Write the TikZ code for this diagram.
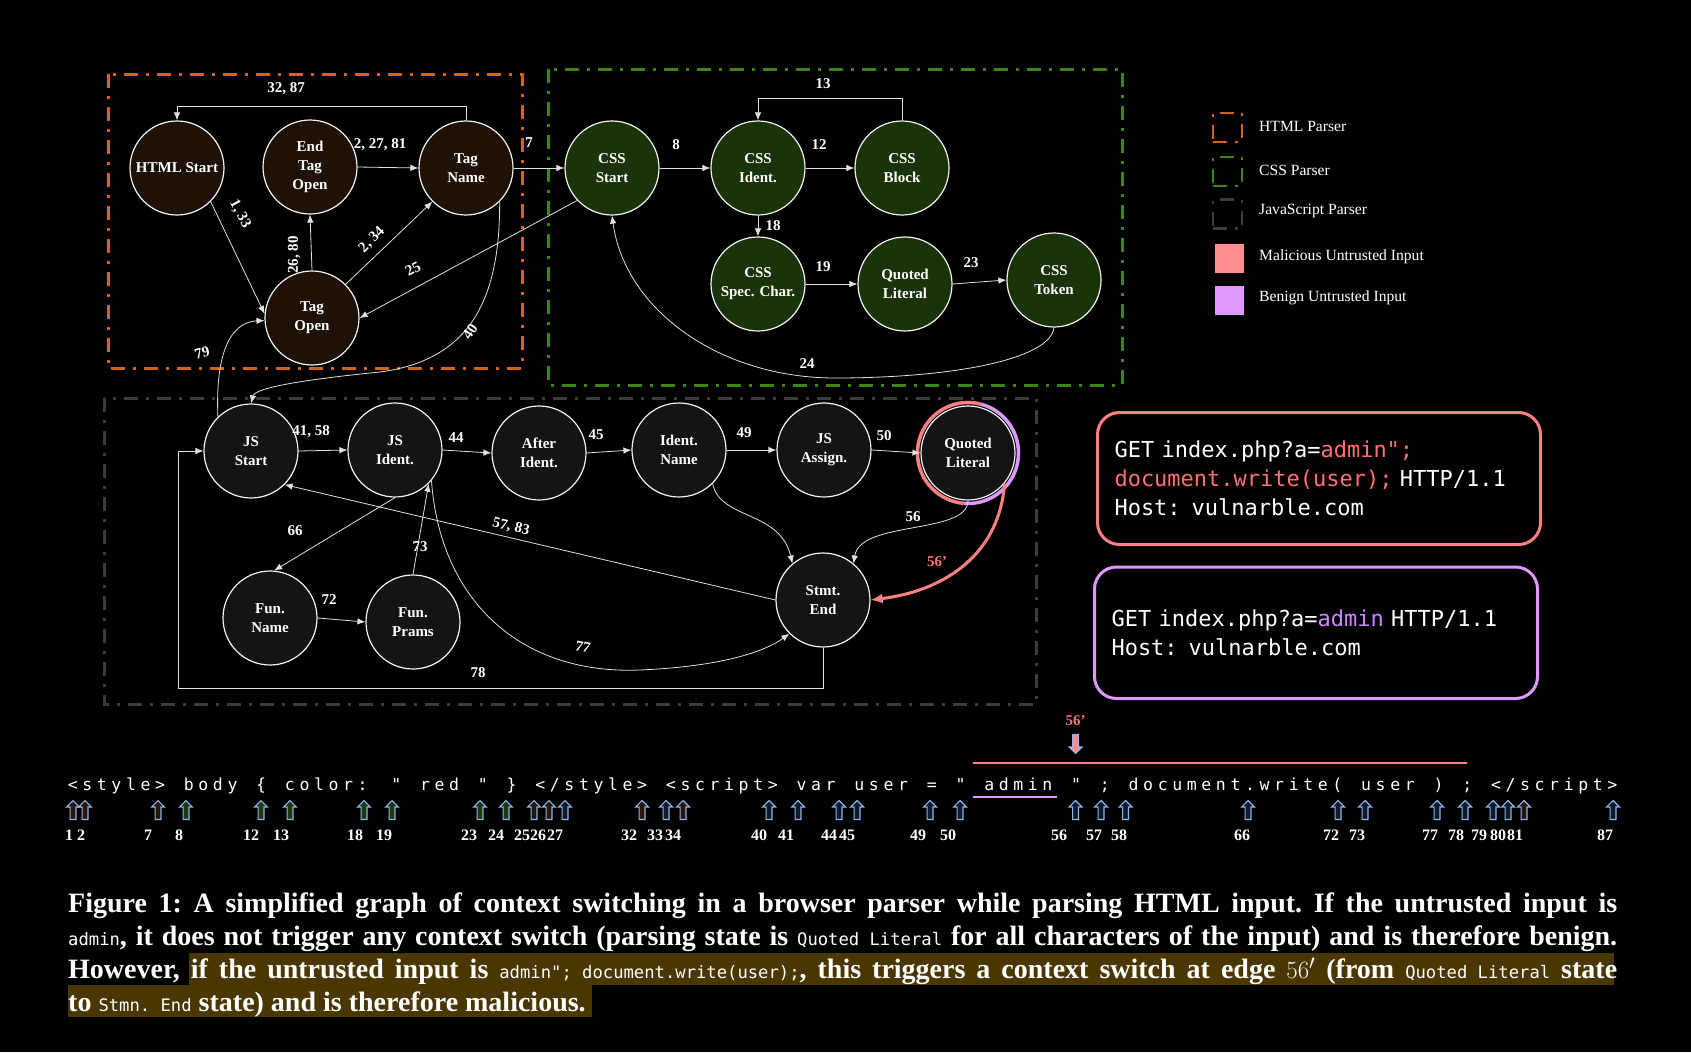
\documentclass[tikz,border=0pt]{standalone}
\usepackage{fontspec}
\setmainfont{Liberation Serif}
\newfontfamily\monofont{DejaVu Sans Mono}
\newfontfamily\tokfont[LetterSpace=28]{DejaVu Sans Mono}
\usetikzlibrary{arrows.meta,shapes.arrows}
\definecolor{htmlfill}{HTML}{1F1106}
\definecolor{cssfill}{HTML}{1A3308}
\definecolor{jsfill}{HTML}{141414}
\definecolor{nodeline}{HTML}{F2F2F2}
\definecolor{edgecol}{HTML}{E0E0E0}
\definecolor{htmlline}{HTML}{D2641A}
\definecolor{cssline}{HTML}{3F8418}
\definecolor{jsline}{HTML}{3C3C3C}
\definecolor{malline}{HTML}{FF8080}
\definecolor{maltext}{HTML}{FF7070}
\definecolor{malfill}{HTML}{FF8C8C}
\definecolor{benline}{HTML}{DD99FF}
\definecolor{bentext}{HTML}{CC88FF}
\definecolor{arrline}{HTML}{8EB5EA}
\definecolor{harr}{HTML}{2A1608}
\definecolor{carr}{HTML}{1C3A0C}
\definecolor{jarr}{HTML}{0F1A2A}
\definecolor{hilite}{HTML}{4A3700}
\newcommand{\capmono}[1]{{\monofont\mdseries\fontsize{17.2}{33}\selectfont\spaceskip=10.35pt\relax #1}}

\begin{document}
\begin{tikzpicture}[x=1pt, y=1pt,
	state/.style={circle, draw=nodeline, line width=1.2pt, minimum size=94pt, inner sep=1pt, align=center, text=white, font=\bfseries\fontsize{15}{19}\selectfont},
	htmlst/.style={state, fill=htmlfill},
	cssst/.style={state, fill=cssfill},
	jsst/.style={state, fill=jsfill},
	edge/.style={draw=edgecol, line width=0.8pt, -{Latex[length=8pt,width=6.5pt]}},
	malarrow/.style={draw=malline, line width=3pt, -{Latex[length=12pt,width=10pt]}},
	lbl/.style={text=white, inner sep=0pt, font=\bfseries\fontsize{15}{18}\selectfont},
	parser/.style={line width=3pt, dash pattern=on 14pt off 8pt on 3pt off 8pt},
	legbox/.style={minimum width=29pt, minimum height=29pt, inner sep=0pt},
	legtxt/.style={anchor=west, text=white, inner sep=0pt, font=\fontsize{15.6}{18}\selectfont},
	reqbox/.style={draw, rounded corners=22pt, line width=3pt, text width=409pt, inner xsep=17pt, inner ysep=0pt, minimum height=132pt, align=left, text=white, font=\monofont\fontsize{22}{29}\selectfont},
	tokup/.style={single arrow, shape border rotate=90, draw=arrline, line width=1.1pt, minimum height=19pt, minimum width=12pt, inner sep=2.4pt, single arrow head extend=3.5pt},
	toklbl/.style={text=white, inner sep=0pt, font=\bfseries\fontsize{16}{18}\selectfont}
	]
		%%%%% START %%%%%
		
		\fill[black] (0,0) rectangle (1691,-1052);
		\useasboundingbox (0,0) rectangle (1691,-1052);
		
		\draw[parser, draw=htmlline] (108,-74) rectangle (522,-368);
		\draw[parser, draw=cssline] (548,-69) rectangle (1122,-385);
		\draw[parser, draw=jsline] (104,-398) rectangle (1036,-704);
		
		\coordinate (hloop) at (0,-106);
		\coordinate (cloop) at (0,-98);
		\coordinate (jsloop) at (178,-688);
		
		% HTML parser
		\node[htmlst] (hs) at (177,-168) {HTML Start};
		\node[htmlst] (eto) at (310,-167) {End\\Tag\\Open};
		\node[htmlst] (tn) at (466,-168) {Tag\\Name};
		\node[htmlst] (to) at (312,-318) {Tag\\Open};
		
		% CSS parser
		\node[cssst] (cs) at (612,-168) {CSS\\Start};
		\node[cssst] (ci) at (758,-168) {CSS\\Ident.};
		\node[cssst] (cb) at (902,-168) {CSS\\Block};
		\node[cssst] (csp) at (758,-284) {CSS\\Spec. Char.};
		\node[cssst] (cq) at (905,-284) {Quoted\\Literal};
		\node[cssst] (ct) at (1054,-280) {CSS\\Token};
		
		% JavaScript parser
		\node[jsst] (jss) at (251,-451) {JS\\Start};
		\node[jsst] (jsi) at (395,-450) {JS\\Ident.};
		\node[jsst] (ai) at (539,-453) {After\\Ident.};
		\node[jsst] (idn) at (679,-450) {Ident.\\Name};
		\node[jsst] (jsa) at (824,-450) {JS\\Assign.};
		\node[jsst] (ql) at (968,-453) {Quoted\\Literal};
		\node[jsst] (se) at (823,-600) {Stmt.\\End};
		\node[jsst] (fn) at (270,-618) {Fun.\\Name};
		\node[jsst] (fp) at (413,-622) {Fun.\\Prams};
		
		\draw[malline, line width=3.5pt] ([shift={(75:50.5)}]ql.center) arc[start angle=75, end angle=265, radius=50.5];
		\draw[benline, line width=3.5pt] ([shift={(265:50.5)}]ql.center) arc[start angle=265, end angle=435, radius=50.5];
		
		\draw[edge] (hs.-45) -- (to.175);
		\draw[edge] (to.north) -- (eto.south);
		\draw[edge] (eto.east) -- (tn.west);
		\draw[edge] (to.45) -- (tn.225);
		\draw[edge] (tn.north) -- (tn.north |- hloop) -| (hs.north);
		\draw[edge] (tn.east) -- (cs.west);
		\draw[edge] (cs.223) -- (to.east);
		\draw[edge] (tn.-45) .. controls (500,-300) and (470,-360) .. (380,-372) .. controls (300,-380) and (255,-388) .. (jss.north);
		\draw[edge] (jss.134) .. controls (215,-350) and (232,-322) .. (to.183);
		
		\draw[edge] (cs.east) -- (ci.west);
		\draw[edge] (ci.east) -- (cb.west);
		\draw[edge] (cb.north) -- (cb.north |- cloop) -| (ci.north);
		\draw[edge] (ci.south) -- (csp.north);
		\draw[edge] (csp.east) -- (cq.west);
		\draw[edge] (cq.east) -- (ct.west);
		\draw[edge] (ct.south) .. controls (1050,-360) and (950,-378) .. (835,-378) .. controls (720,-378) and (625,-310) .. (cs.south);
		
		\draw[edge] (jss.east) -- (jsi.west);
		\draw[edge] (jsi.east) -- (ai.west);
		\draw[edge] (ai.east) -- (idn.west);
		\draw[edge] (idn.east) -- (jsa.west);
		\draw[edge] (jsa.east) -- (ql.west);
		\draw[edge] (jsi.south) -- (fn.85);
		\draw[edge] (fn.east) -- (fp.west);
		\draw[edge] (fp.north) -- (jsi.-45);
		\draw[edge] (se.west) -- (jss.-45);
		\draw[edge] (idn.-45) .. controls (720,-520) and (780,-510) .. (se.130);
		\draw[edge] (ql.south) .. controls (968,-535) and (860,-520) .. (se.50);
		\draw[edge] (jsi.-40) .. controls (440,-600) and (520,-675) .. (640,-670) .. controls (710,-667) and (760,-655) .. (se.225);
		\draw[edge] (se.south) |- (jsloop) |- (jss.west);
		\draw[malarrow] (ql.-40) .. controls (1000,-550) and (950,-590) .. (se.east);
		
		% edge labels
		\node[lbl] (l3287) at (286,-89) {32, 87};
		\node[lbl] (l22781) at (380,-145) {2, 27, 81};
		\node[lbl, rotate=-62] (l133) at (240,-214) {1, 33};
		\node[lbl, rotate=90] (l2680) at (294,-255) {26, 80};
		\node[lbl, rotate=45] (l234) at (372,-240) {2, 34};
		\node[lbl, rotate=28] (l25) at (413,-269) {25};
		\node[lbl, rotate=55] (l40) at (470,-332) {40};
		\node[lbl, rotate=15] (l79) at (202,-353) {79};
		\node[lbl] (l7) at (529,-143) {7};
		\node[lbl] (l8) at (676,-145) {8};
		\node[lbl] (l12) at (819,-145) {12};
		\node[lbl] (l13) at (823,-84) {13};
		\node[lbl] (l18) at (773,-226) {18};
		\node[lbl] (l19) at (823,-267) {19};
		\node[lbl] (l23) at (971,-263) {23};
		\node[lbl] (l24) at (807,-364) {24};
		\node[lbl] (l4158) at (311,-432) {41, 58};
		\node[lbl] (l44) at (456,-438) {44};
		\node[lbl] (l45) at (596,-435) {45};
		\node[lbl] (l49) at (744,-433) {49};
		\node[lbl] (l50) at (884,-436) {50};
		\node[lbl] (l56) at (913,-517) {56};
		\node[lbl, text=maltext] (l56p) at (937,-562) {56'};
		\node[lbl, rotate=-13] (l5783) at (511,-527) {57, 83};
		\node[lbl] (l66) at (295,-531) {66};
		\node[lbl] (l73) at (420,-547) {73};
		\node[lbl] (l72) at (329,-600) {72};
		\node[lbl, rotate=-12] (l77) at (583,-647) {77};
		\node[lbl] (l78) at (478,-673) {78};
		
		% legend
		\node[legbox, parser, draw=htmlline, line width=2.5pt] (lgh) at (1227.5,-127.7) {};
		\node[legbox, parser, draw=cssline, line width=2.5pt] (lgc) at (1227.5,-171.7) {};
		\node[legbox, parser, draw=jsline, line width=2.5pt] (lgj) at (1227.5,-214) {};
		\node[legbox, fill=malfill] (lgm) at (1229.5,-258) {};
		\node[legbox, fill=benline] (lgb) at (1229.5,-300) {};
		\node[legtxt] (lth) at (1259,-126) {HTML Parser};
		\node[legtxt] (ltc) at (1259,-170) {CSS Parser};
		\node[legtxt] (ltj) at (1259,-211) {JavaScript Parser};
		\node[legtxt] (ltm) at (1259,-256.5) {Malicious Untrusted Input};
		\node[legtxt] (ltb) at (1259,-298) {Benign Untrusted Input};
		
		% requests
		\node[reqbox, draw=malline, anchor=north west] (mreq) at (1096,-411) {GET index.php?a=\textcolor{maltext}{admin";}\\\textcolor{maltext}{document.write(user);} HTTP/1.1\\Host: vulnarble.com};
		\node[reqbox, draw=benline, anchor=north west, minimum height=131.5pt] (breq) at (1093,-565.5) {GET index.php?a=\textcolor{bentext}{admin} HTTP/1.1\\Host: vulnarble.com};
		
		% input string
		\node[anchor=base west, inner sep=0pt, text=white, font=\tokfont\fontsize{16.5}{20}\selectfont] (src) at (67.6,-790) {\spaceskip=18.8pt\relax <style> body \{ color: " red " \} </style> <script> var user = " admin " ; document.write( user ) ; </script>};
		\draw[malline, line width=2.5pt] (973,-763) -- (1467,-763);
		\draw[benline, line width=2.5pt] (973,-797) -- (1057,-797);
		\node[lbl, text=maltext] (t56p) at (1075.5,-721) {56'};
		\node[tokup, shape border rotate=270, fill=malfill] (d56p) at (1075.5,-742.5) {};
		
		\foreach \n/\ax/\lx/\c in {1/73/69/harr, 2/85/81/harr, 7/158/148/harr, 8/186/179/carr, 12/261/251/carr, 13/290/281/carr, 18/364/355/carr, 19/392/384/carr, 23/480/469/carr, 24/506/496/carr, 25/534/522/harr, 26/549/538/harr, 27/565/555/jarr, 32/642/629/harr, 33/666/655/jarr, 34/683/673/harr, 40/769/759/jarr, 41/798/786/jarr, 44/839/829/jarr, 45/857/847/jarr, 49/930/918/jarr, 50/960/948/jarr, 56/1075.5/1059/jarr, 57/1101/1094/jarr, 58/1125.5/1119/jarr, 66/1248/1242/jarr, 72/1338/1331/jarr, 73/1365/1357/jarr, 77/1437/1430/jarr, 78/1465/1456/jarr, 79/1493/1479/jarr, 80/1508/1498/jarr, 81/1524/1515/harr, 87/1613/1605/jarr}{
			\node[tokup, fill=\c] (ta\n) at (\ax,-811.5) {};
			\node[toklbl] (tl\n) at (\lx,-835) {\n};
		}
		
		% caption
		\fill[hilite] (189,-953) rectangle (1614,-985);
		\fill[hilite] (68,-985) rectangle (592,-1017);
		\node[anchor=north west, inner sep=0pt, text width=1549pt, align=justify, text=white, font=\bfseries\fontsize{28}{33}\selectfont] (cap) at (68,-893) {\noindent\frenchspacing Figure 1: A simplified graph of context switching in a browser parser while parsing HTML input. If the untrusted input is\linebreak \capmono{admin}, it does not trigger any context switch (parsing state is \capmono{Quoted Literal} for all characters of the input) and is therefore benign.\linebreak However, if the untrusted input is \capmono{admin"; document.write(user);}, this triggers a context switch at edge $56'$ (from \capmono{Quoted Literal} state\linebreak to \capmono{Stmn. End} state) and is therefore malicious.};
		
		%%%%% END %%%%%
	\end{tikzpicture}
\end{document}
